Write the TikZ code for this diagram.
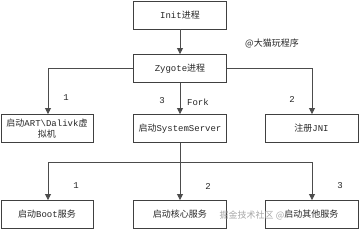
\documentclass[tikz,border=0pt]{standalone}
\usepackage{fontspec}
\setmainfont{Liberation Mono}
\newfontfamily\cjk{Noto Sans CJK SC}
\usetikzlibrary{arrows.meta}
\begin{document}
\begin{tikzpicture}[x=1pt,y=-1pt,
  box/.style={draw=black!75,line width=0.9pt,minimum width=93pt,minimum height=28pt,inner sep=1pt,font=\fontsize{9}{11}\selectfont,text=black!85,align=center},
  conn/.style={draw=black!70,line width=0.8pt},
  arr/.style={conn,-{Triangle[length=6pt,width=6pt]}},
  lbl/.style={font=\fontsize{9}{10}\selectfont,text=black!85,inner sep=0pt}]
\useasboundingbox (0,0) rectangle (360,230);
\node[box] (init) at (180,15) {Init{\cjk 进程}};
\node[box] (zyg) at (180,68.5) {Zygote{\cjk 进程}};
\node[box,minimum width=92pt] (art) at (47,128.5) {{\cjk 启动}ART\textbackslash Dalivk{\cjk 虚}\\{\cjk 拟机}};
\node[box] (ss) at (180,128.5) {{\cjk 启动}SystemServer};
\node[box] (jni) at (311.5,128.5) {{\cjk 注册}JNI};
\node[box,minimum width=92pt] (boot) at (47,214.5) {{\cjk 启动}Boot{\cjk 服务}};
\node[box] (core) at (180,214.5) {{\cjk 启动核心服务}};
\node[box] (other) at (311.5,214.5) {{\cjk 启动其他服务}};
\coordinate (br) at (180,162);
\coordinate (bl) at (48,162);
\coordinate (brr) at (312,162);
\draw[arr] (init) -- (zyg);
\draw[arr] (zyg.west) -| (art.north-|bl);
\draw[arr] (zyg) -- (ss);
\draw[arr] (zyg.east) -| (jni.north-|brr);
\draw[conn] (ss) -- (br);
\draw[arr] (br) -| (boot.north-|bl);
\draw[arr] (br) -- (core);
\draw[arr] (br) -| (other.north-|brr);
\node[lbl] (l1) at (66,98) {1};
\node[lbl] (l3) at (162,101) {3};
\node[lbl] (fork) at (198,102) {Fork};
\node[lbl] (l2) at (292,99) {2};
\node[lbl] (m1) at (76,186) {1};
\node[lbl] (m2) at (208,186) {2};
\node[lbl] (m3) at (340,186) {3};
\node[lbl,font=\cjk\fontsize{9}{10}\selectfont] (wm) at (272,43) {@大猫玩程序};
\node[lbl,font=\cjk\fontsize{9}{10}\selectfont,text=black!35] (wm2) at (252,215) {掘金技术社区 @};
\end{tikzpicture}
\end{document}
